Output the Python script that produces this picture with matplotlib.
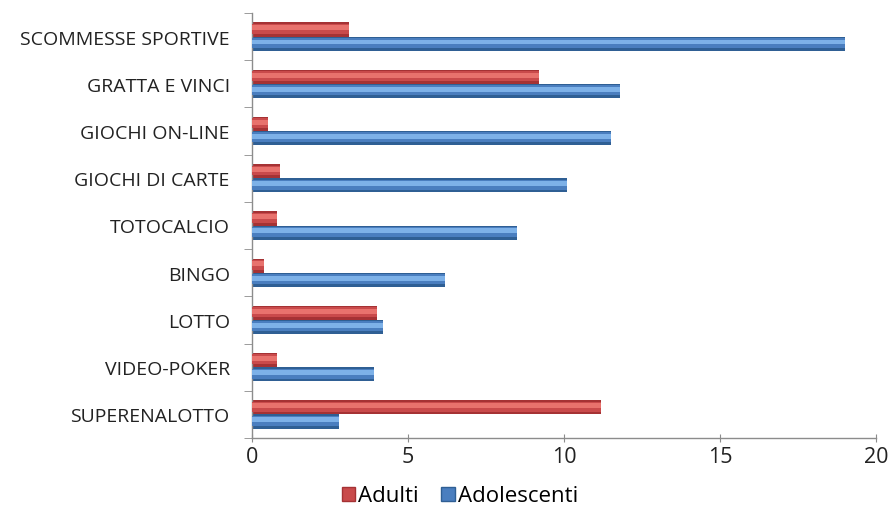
import numpy as np
import matplotlib
matplotlib.use('Agg')
import matplotlib.pyplot as plt
from matplotlib.patches import Patch

categories = ['SCOMMESSE SPORTIVE', 'GRATTA E VINCI', 'GIOCHI ON-LINE', 'GIOCHI DI CARTE',
              'TOTOCALCIO', 'BINGO', 'LOTTO', 'VIDEO-POKER', 'SUPERENALOTTO']
adulti = [3.1, 9.2, 0.5, 0.9, 0.8, 0.4, 4.0, 0.8, 11.2]
adolescenti = [19.0, 11.8, 11.5, 10.1, 8.5, 6.2, 4.2, 3.9, 2.8]
xticks = [0, 5, 10, 15, 20]

red_dark = '#A53234'
red_mid = '#C94A4B'
red_light = '#E8726D'
blue_dark = '#2F5F94'
blue_mid = '#4A7EBF'
blue_light = '#7DB1E8'
axis_col = '#8C8C8C'

plt.rcParams['font.family'] = ['Open Sans', 'DejaVu Sans']

fig = plt.figure(figsize=(8.89, 5.10), dpi=100)
ax = fig.add_axes([252/889, 1-439/510, (876-252)/889, (439-14)/510])

n = len(categories)
y = np.arange(n)[::-1].astype(float)   # top category at top
h = 0.3

# red (Adulti) sits above, blue (Adolescenti) below; layered to fake the bevel
ax.barh(y + h/2, adulti, height=h, color=red_dark, edgecolor='none', zorder=2)
ax.barh(y + h/2 + h*0.05, adulti, height=h*0.7, color=red_mid, edgecolor='none', zorder=3)
ax.barh(y + h/2 + h*0.12, adulti, height=h*0.35, color=red_light, edgecolor='none', zorder=4)
ax.barh(y - h/2, adolescenti, height=h, color=blue_dark, edgecolor='none', zorder=2)
ax.barh(y - h/2 + h*0.05, adolescenti, height=h*0.7, color=blue_mid, edgecolor='none', zorder=3)
ax.barh(y - h/2 + h*0.12, adolescenti, height=h*0.35, color=blue_light, edgecolor='none', zorder=4)

ax.set_xlim(0, 20)
ax.set_ylim(-0.5, n - 0.5)
ax.set_xticks(xticks)
ax.set_xticklabels([str(t) for t in xticks], fontsize=15.5, color='#222222')

ax.set_yticks(y)
ax.set_yticklabels(categories, fontsize=14, color='#222222')
ax.set_yticks(np.arange(n + 1) - 0.5, minor=True)
ax.tick_params(axis='y', which='major', length=0, pad=16)
ax.tick_params(axis='y', which='minor', length=6, color=axis_col, direction='out')
ax.tick_params(axis='x', which='major', length=6, color=axis_col, direction='inout', pad=3)

for s in ['top', 'right']:
    ax.spines[s].set_visible(False)
for s in ['left', 'bottom']:
    ax.spines[s].set_color(axis_col)
    ax.spines[s].set_linewidth(1.0)

handles = [Patch(facecolor=red_mid, edgecolor=red_dark, label='Adulti'),
           Patch(facecolor=blue_mid, edgecolor=blue_dark, label='Adolescenti')]
fig.legend(handles=handles, loc='center', bbox_to_anchor=(460/889, 1-497/510), ncol=2,
           frameon=False, fontsize=16, handlelength=0.6, handleheight=0.6,
           handletextpad=0.15, columnspacing=1.0, borderpad=0)

plt.savefig('out.png', dpi=100)
plt.close()
